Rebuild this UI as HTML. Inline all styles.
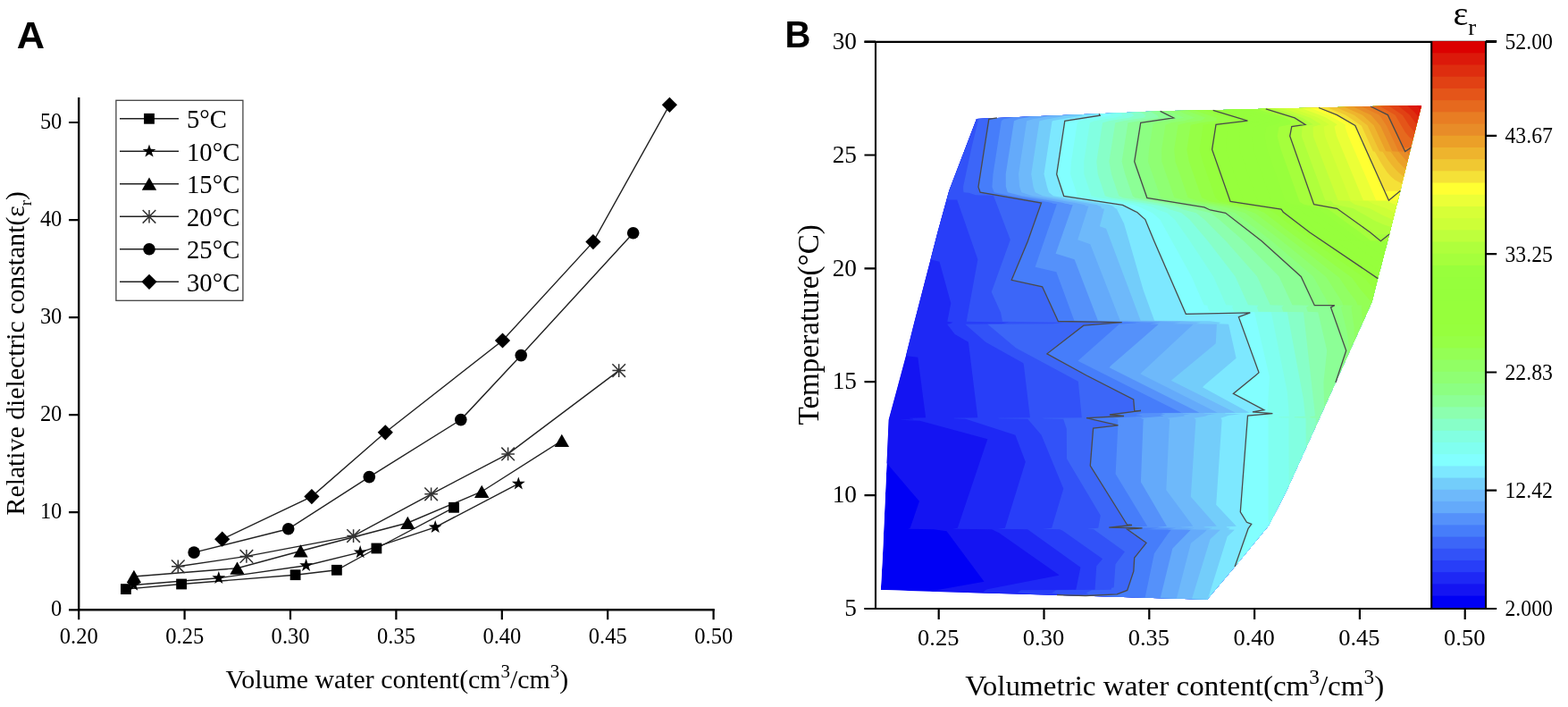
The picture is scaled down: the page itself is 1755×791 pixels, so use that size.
<!DOCTYPE html>
<html><head><meta charset="utf-8"><title>Dielectric constant figure</title>
<style>html,body{margin:0;padding:0;background:#fff;overflow:hidden;width:1755px;height:791px;}svg{display:block;}</style></head>
<body><svg width="1755" height="791" viewBox="0 0 1755 791">
<rect width="1755" height="791" fill="#fff"/>
<path d="M88.2 108.9V682.3M87.0 682.3H799.8" stroke="#000" stroke-width="2.4" fill="none"/>
<path d="M77.0 682.3H88.2M77.0 573.2H88.2M77.0 464.2H88.2M77.0 355.1H88.2M77.0 246.1H88.2M77.0 137.0H88.2M88.2 682.3V693.3M206.6 682.3V693.3M325.0 682.3V693.3M443.4 682.3V693.3M561.8 682.3V693.3M680.2 682.3V693.3M798.6 682.3V693.3" stroke="#000" stroke-width="2.2" fill="none"/>
<text transform="translate(69.33,689.15) scale(1,1.032)" font-family='"Liberation Serif", "DejaVu Serif", serif' font-size="24.46" text-anchor="end">0</text>
<text transform="translate(69.33,580.09) scale(1,1.032)" font-family='"Liberation Serif", "DejaVu Serif", serif' font-size="24.46" text-anchor="end">10</text>
<text transform="translate(69.33,471.03) scale(1,1.032)" font-family='"Liberation Serif", "DejaVu Serif", serif' font-size="24.46" text-anchor="end">20</text>
<text transform="translate(69.33,361.97) scale(1,1.032)" font-family='"Liberation Serif", "DejaVu Serif", serif' font-size="24.46" text-anchor="end">30</text>
<text transform="translate(69.33,252.91) scale(1,1.032)" font-family='"Liberation Serif", "DejaVu Serif", serif' font-size="24.46" text-anchor="end">40</text>
<text transform="translate(69.33,143.85) scale(1,1.032)" font-family='"Liberation Serif", "DejaVu Serif", serif' font-size="24.46" text-anchor="end">50</text>
<text transform="translate(88.31,720.24) scale(1,1.005)" font-family='"Liberation Serif", "DejaVu Serif", serif' font-size="24.57" text-anchor="middle">0.20</text>
<text transform="translate(206.71,720.24) scale(1,1.005)" font-family='"Liberation Serif", "DejaVu Serif", serif' font-size="24.57" text-anchor="middle">0.25</text>
<text transform="translate(325.11,720.24) scale(1,1.005)" font-family='"Liberation Serif", "DejaVu Serif", serif' font-size="24.57" text-anchor="middle">0.30</text>
<text transform="translate(443.51,720.24) scale(1,1.005)" font-family='"Liberation Serif", "DejaVu Serif", serif' font-size="24.57" text-anchor="middle">0.35</text>
<text transform="translate(561.91,720.24) scale(1,1.005)" font-family='"Liberation Serif", "DejaVu Serif", serif' font-size="24.57" text-anchor="middle">0.40</text>
<text transform="translate(680.31,720.24) scale(1,1.005)" font-family='"Liberation Serif", "DejaVu Serif", serif' font-size="24.57" text-anchor="middle">0.45</text>
<text transform="translate(798.71,720.24) scale(1,1.005)" font-family='"Liberation Serif", "DejaVu Serif", serif' font-size="24.57" text-anchor="middle">0.50</text>
<polyline points="140.9,659.1 203.1,653.5 330.6,643.2 376.9,637.8 421.4,613.5 508,567.8" fill="none" stroke="#222" stroke-width="1.4"/>
<polyline points="149.7,654.5 244.8,646.7 342.6,632.7 403.2,617.9 487.2,589.8 580.3,541.2" fill="none" stroke="#222" stroke-width="1.4"/>
<polyline points="149.9,645 265.5,635.7 336.5,616.5 456.3,585 539.2,550 628.8,493" fill="none" stroke="#222" stroke-width="1.4"/>
<polyline points="199.3,633.8 275.9,622.4 395.6,599.6 482.6,552.8 568.6,507.9 692.7,414.6" fill="none" stroke="#222" stroke-width="1.4"/>
<polyline points="217.1,618.1 322.7,591.8 413.3,533.6 515.8,469.6 583.2,397.6 708.7,260.7" fill="none" stroke="#222" stroke-width="1.4"/>
<polyline points="248.7,603.2 348.9,555.6 431.3,483.8 562.5,381 663.9,270.6 749.4,117.3" fill="none" stroke="#222" stroke-width="1.4"/>
<g fill="#000">
<rect x="135.0" y="653.2" width="11.8" height="11.8"/>
<rect x="197.2" y="647.6" width="11.8" height="11.8"/>
<rect x="324.7" y="637.3" width="11.8" height="11.8"/>
<rect x="371.0" y="631.9" width="11.8" height="11.8"/>
<rect x="415.5" y="607.6" width="11.8" height="11.8"/>
<rect x="502.1" y="561.9" width="11.8" height="11.8"/>
<polygon points="149.7,646.7 147.9,652.0 142.3,652.1 146.8,655.5 145.1,660.8 149.7,657.6 154.3,660.8 152.6,655.5 157.1,652.1 151.5,652.0"/>
<polygon points="244.8,638.9 243.0,644.2 237.4,644.3 241.9,647.7 240.2,653.0 244.8,649.8 249.4,653.0 247.7,647.7 252.2,644.3 246.6,644.2"/>
<polygon points="342.6,624.9 340.8,630.2 335.2,630.3 339.7,633.7 338.0,639.0 342.6,635.8 347.2,639.0 345.5,633.7 350.0,630.3 344.4,630.2"/>
<polygon points="403.2,610.1 401.4,615.4 395.8,615.5 400.3,618.9 398.6,624.2 403.2,621.0 407.8,624.2 406.1,618.9 410.6,615.5 405.0,615.4"/>
<polygon points="487.2,582.0 485.4,587.3 479.8,587.4 484.3,590.8 482.6,596.1 487.2,592.9 491.8,596.1 490.1,590.8 494.6,587.4 489.0,587.3"/>
<polygon points="580.3,533.4 578.5,538.7 572.9,538.8 577.4,542.2 575.7,547.5 580.3,544.3 584.9,547.5 583.2,542.2 587.7,538.8 582.1,538.7"/>
<polygon points="149.9,637.8 158.1,652.0 141.7,652.0"/>
<polygon points="265.5,628.5 273.7,642.7 257.3,642.7"/>
<polygon points="336.5,609.3 344.7,623.5 328.3,623.5"/>
<polygon points="456.3,577.8 464.5,592.0 448.1,592.0"/>
<polygon points="539.2,542.8 547.4,557.0 531.0,557.0"/>
<polygon points="628.8,485.8 637.0,500.0 620.6,500.0"/>
<path d="M192.0 626.5L206.6 641.1M206.6 626.5L192.0 641.1M199.3 626.5V641.1M192.0 633.8H206.6" stroke="#333" stroke-width="1.5" fill="none"/>
<path d="M268.6 615.1L283.2 629.7M283.2 615.1L268.6 629.7M275.9 615.1V629.7M268.6 622.4H283.2" stroke="#333" stroke-width="1.5" fill="none"/>
<path d="M388.3 592.3L402.9 606.9M402.9 592.3L388.3 606.9M395.6 592.3V606.9M388.3 599.6H402.9" stroke="#333" stroke-width="1.5" fill="none"/>
<path d="M475.3 545.5L489.9 560.1M489.9 545.5L475.3 560.1M482.6 545.5V560.1M475.3 552.8H489.9" stroke="#333" stroke-width="1.5" fill="none"/>
<path d="M561.3 500.6L575.9 515.2M575.9 500.6L561.3 515.2M568.6 500.6V515.2M561.3 507.9H575.9" stroke="#333" stroke-width="1.5" fill="none"/>
<path d="M685.4 407.3L700.0 421.9M700.0 407.3L685.4 421.9M692.7 407.3V421.9M685.4 414.6H700.0" stroke="#333" stroke-width="1.5" fill="none"/>
<circle cx="217.1" cy="618.1" r="6.8"/>
<circle cx="322.7" cy="591.8" r="6.8"/>
<circle cx="413.3" cy="533.6" r="6.8"/>
<circle cx="515.8" cy="469.6" r="6.8"/>
<circle cx="583.2" cy="397.6" r="6.8"/>
<circle cx="708.7" cy="260.7" r="6.8"/>
<polygon points="248.7,594.6 257.3,603.2 248.7,611.8 240.1,603.2"/>
<polygon points="348.9,547.0 357.5,555.6 348.9,564.2 340.3,555.6"/>
<polygon points="431.3,475.2 439.9,483.8 431.3,492.4 422.7,483.8"/>
<polygon points="562.5,372.4 571.1,381.0 562.5,389.6 553.9,381.0"/>
<polygon points="663.9,262.0 672.5,270.6 663.9,279.2 655.3,270.6"/>
<polygon points="749.4,108.7 758.0,117.3 749.4,125.9 740.8,117.3"/>
</g>
<rect x="129.9" y="112.3" width="142" height="224" fill="#fff" stroke="#444" stroke-width="1.3"/>
<path d="M134 132.8H200" stroke="#222" stroke-width="1.4"/>
<g fill="#000"><rect x="161.1" y="126.9" width="11.8" height="11.8"/></g>
<text transform="translate(209.00,143.34) scale(1,1.052)" font-family='"Liberation Serif", "DejaVu Serif", serif' font-size="28.76">5°C</text>
<path d="M134 169.3H200" stroke="#222" stroke-width="1.4"/>
<g fill="#000"><polygon points="167.0,161.5 165.2,166.8 159.6,166.9 164.1,170.3 162.4,175.6 167.0,172.4 171.6,175.6 169.9,170.3 174.4,166.9 168.8,166.8"/></g>
<text transform="translate(209.00,179.84) scale(1,1.052)" font-family='"Liberation Serif", "DejaVu Serif", serif' font-size="28.76">10°C</text>
<path d="M134 205.8H200" stroke="#222" stroke-width="1.4"/>
<g fill="#000"><polygon points="167.0,198.6 175.2,212.8 158.8,212.8"/></g>
<text transform="translate(209.00,216.34) scale(1,1.052)" font-family='"Liberation Serif", "DejaVu Serif", serif' font-size="28.76">15°C</text>
<path d="M134 242.3H200" stroke="#222" stroke-width="1.4"/>
<g fill="#000"><path d="M159.7 235.0L174.3 249.6M174.3 235.0L159.7 249.6M167.0 235.0V249.6M159.7 242.3H174.3" stroke="#333" stroke-width="1.5" fill="none"/></g>
<text transform="translate(209.00,252.84) scale(1,1.052)" font-family='"Liberation Serif", "DejaVu Serif", serif' font-size="28.76">20°C</text>
<path d="M134 278.8H200" stroke="#222" stroke-width="1.4"/>
<g fill="#000"><circle cx="167.0" cy="278.8" r="6.8"/></g>
<text transform="translate(209.00,289.34) scale(1,1.052)" font-family='"Liberation Serif", "DejaVu Serif", serif' font-size="28.76">25°C</text>
<path d="M134 315.3H200" stroke="#222" stroke-width="1.4"/>
<g fill="#000"><polygon points="167.0,306.7 175.6,315.3 167.0,323.9 158.4,315.3"/></g>
<text transform="translate(209.00,325.84) scale(1,1.052)" font-family='"Liberation Serif", "DejaVu Serif", serif' font-size="28.76">30°C</text>
<text transform="translate(444.41,770.09) scale(1,0.961)" font-family='"Liberation Serif", "DejaVu Serif", serif' font-size="29.88" text-anchor="middle">Volume water content(cm<tspan font-size="0.7em" dy="-0.61em">3</tspan><tspan dy="0.43em">/cm</tspan><tspan font-size="0.7em" dy="-0.61em">3</tspan><tspan dy="0.43em">)</tspan></text>
<text transform="translate(26.78,395.27) rotate(-90) scale(1,1.023)" font-family='"Liberation Serif", "DejaVu Serif", serif' font-size="29.76" text-anchor="middle">Relative dielectric constant(ε<tspan font-size="0.62em" dy="0.42em">r</tspan><tspan dy="-0.26em">)</tspan></text>
<text transform="translate(18.70,54.30) scale(1,0.969)" font-family='"Liberation Sans", Arial, sans-serif' font-size="43.32" font-weight="bold">A</text>
<text transform="translate(878.62,53.20) scale(1,1.070)" font-family='"Liberation Sans", Arial, sans-serif' font-size="40.01" font-weight="bold">B</text>
<clipPath id="cp"><path d="M1093 132.9L1115.9 131.9L1230.2 127.2L1298.6 124.3L1357.7 123.3L1416.8 121.8L1476 120.5L1534 119L1591 117.9L1579.1 165.2L1567.3 213.6L1555.1 262.1L1542.2 311.6L1535.7 337.4L1494.9 428L1477.1 467.3L1461.8 501L1442.7 543L1440 549L1421.6 585L1420.2 587.8L1382.1 634L1351.1 670.7L1334 670.2L1316.9 669.7L1298.7 669.2L1281.6 668.7L1250 667.8L1215 666.8L1180 665.8L1100 663.4L1040 661.7L985.8 660.1L988 620L989.3 590L992.5 518.4L994.7 469.4L1005.4 430L1014 398L1023 362L1028.7 340L1041.6 290.2L1049.4 260L1062.3 213.2Z"/></clipPath>
<g clip-path="url(#cp)">
<path d="M1093 132.9L1115.9 131.9L1230.2 127.2L1298.6 124.3L1357.7 123.3L1416.8 121.8L1476 120.5L1534 119L1591 117.9L1579.1 165.2L1567.3 213.6L1555.1 262.1L1542.2 311.6L1535.7 337.4L1494.9 428L1477.1 467.3L1461.8 501L1442.7 543L1440 549L1421.6 585L1420.2 587.8L1382.1 634L1351.1 670.7L1334 670.2L1316.9 669.7L1298.7 669.2L1281.6 668.7L1250 667.8L1215 666.8L1180 665.8L1100 663.4L1040 661.7L985.8 660.1L988 620L989.3 590L992.5 518.4L994.7 469.4L1005.4 430L1014 398L1023 362L1028.7 340L1041.6 290.2L1049.4 260L1062.3 213.2Z" fill="rgb(0,0,245)"/>
<path fill-rule="evenodd" fill="rgb(20,20,242)" d="M1604.8 682.8 975.2 682.8 975.2 661.7 1041.2 661.4 1101.5 650.8 1059.5 594.2 1045.3 592.2 1016.2 591.8 1018.7 590.8 1029 560.8 992.8 518.6 992.2 518.3 975.2 518.3 975.2 108.2 1604.8 108.2 1604.8 682.8Z"/>
<path fill-rule="evenodd" fill="rgb(30,40,245)" d="M1604.8 682.8 975.2 682.8 975.2 663.4 1100 663.2 1103.2 659.9 1105.1 659.2 1184.9 643.8 1185.3 643.2 1118.3 596.2 1110.1 592.2 1066.4 591.8 1071.8 590.8 1105.3 491.2 1029.5 470.8 1006.7 469.8 1022.5 469.2 1022 468.8 1018 468.2 1017.8 467.8 1036.1 467.2 1027.3 399.8 1016.8 398.6 1013.8 397.6 975.2 397.6 975.2 108.2 1604.8 108.2 1604.8 682.8Z"/>
<path fill-rule="evenodd" fill="rgb(40,62,248)" d="M1604.8 682.8 975.2 682.8 975.2 665.3 1161.8 665.3 1162.4 665.2 1155.8 665.1 1138.6 663.2 1142.7 660.2 1204.3 659.8 1209.4 634.8 1150.1 592.2 1116.5 591.8 1124.9 590.8 1147.8 516.7 1136.4 486.8 1080.8 468.8 1068.1 468.2 1067.4 467.8 1094.3 467.2 1083.9 382.8 1068.8 374.1 1060.1 362.8 1063.2 362.2 1066.5 360.8 1060.3 359.8 1064.3 339.2 1051.5 292.8 1041.2 290.2 975.2 290.2 975.2 108.2 1604.8 108.2 1604.8 682.8Z"/>
<path fill-rule="evenodd" fill="rgb(50,82,248)" d="M1604.8 682.8 975.2 682.8 975.2 666.1 1188.2 665.9 1192.7 665.8 1177.1 663.2 1182.4 660.2 1225.5 659.8 1227.3 633.2 1234.1 625.2 1189.4 593.8 1186.1 592.2 1166.7 591.8 1177.1 590.8 1190.3 546.8 1165.6 486.8 1150.2 468.8 1118.2 468.2 1117 467.8 1152.9 467.2 1145.8 407.7 1145.3 406.2 1103.2 382.8 1080.3 362.8 1120.8 362.2 1129 360.8 1081.7 359.8 1094.4 290.2 1071.2 223.5 975.2 223.6 975.2 108.2 1604.8 108.2 1604.8 682.8Z"/>
<path fill-rule="evenodd" fill="rgb(60,102,248)" d="M1604.8 682.8 975.2 682.8 975.2 666.5 1200.8 666.4 1211.6 665.8 1218.3 664.8 1215.7 663.2 1222.1 660.2 1243.7 659.8 1244.1 657.8 1246.7 657.2 1248.5 631.2 1258.9 617.2 1224.1 592.2 1216.9 591.8 1229.2 590.8 1231.8 576.8 1194 513.2 1193.8 479.8 1190.1 468.8 1168.3 468.2 1166.6 467.8 1210.8 467.2 1206.8 426.8 1137 389.2 1105.4 362.8 1178.4 362.2 1191.4 360.8 1122 359.8 1120.1 349.8 1109.7 326.8 1130.8 268.2 1111.9 218.8 1092.2 218.2 1084.5 215.8 1078.6 215.2 1078.2 213.2 1078.1 208.8 1088 162.8 1095.1 133.8 1095.8 132.9 1096.7 132.8 975.2 132.7 975.2 108.2 1604.8 108.2 1604.8 682.8Z"/>
<path fill-rule="evenodd" fill="rgb(70,125,250)" d="M1604.8 682.8 975.2 682.8 975.2 667.8 1248.6 667.8 1238.2 667.6 1231.6 666.8 1220.2 666.2 1250.3 664.8 1261.8 660.2 1268.8 639.2 1269.7 624.2 1282.9 607.2 1261.8 592.2 1275.8 590.8 1250.8 590.3 1244.8 589.8 1264.5 587.8 1264.2 587.2 1261.3 586.8 1261 586.2 1220.3 520.8 1223.6 479.2 1250.8 475.8 1216.2 467.8 1253.2 465.8 1255.3 465.2 1244.6 464.2 1243.9 463.8 1271.1 460.2 1271.2 459.8 1274.8 459.8 1270.2 459.8 1269.8 459.2 1268.7 447.2 1215.5 419.8 1172 395.8 1212.7 364.2 1253.8 360.8 1184.3 359.2 1166.3 320.8 1132.2 313.2 1150.2 270.1 1165.3 227.2 1097.4 215.2 1096.9 214.8 1095 208.8 1106.7 133.8 1107.2 133.2 1113.6 132.2 975.2 131.9 975.2 108.2 1604.8 108.2 1604.8 682.8Z"/>
<path fill-rule="evenodd" fill="rgb(85,145,250)" d="M1604.8 682.8 975.2 682.8 975.2 668.7 1265.8 668.7 1281.7 668.2 1291.9 619.2 1307.5 596.8 1310.8 592.8 1284.3 592.2 1296.1 590.8 1274 590.2 1270.3 589.8 1284.2 588.8 1248.6 530.2 1251.2 478.8 1251.2 469.8 1251.6 469.2 1246.2 467.8 1277.1 465.8 1278.9 465.2 1271.6 464.2 1271.9 463.8 1276.1 463.2 1275.5 462.8 1278.8 462.2 1322.3 461.8 1206.4 403.8 1252.7 362.8 1276.4 360.8 1202.4 358.8 1182.3 304.2 1158.6 298.8 1182.9 228.2 1178.7 227.8 1176.6 226.8 1132.3 219.2 1112.7 215.2 1110.4 209.2 1111.5 194.8 1120.8 135.2 1123.4 133.2 1134.5 131.2 975.2 131.1 975.2 108.2 1604.8 108.2 1604.8 682.8Z"/>
<path fill-rule="evenodd" fill="rgb(100,170,250)" d="M1604.8 682.8 975.2 682.8 975.2 669.2 1283.2 669.2 1298.8 668.8 1312.3 613.8 1332.8 592.8 1306.8 592.2 1316.4 590.8 1298.8 590.2 1295.9 589.8 1305.9 588.8 1276.9 539.2 1279.6 469.8 1280.5 469.2 1276.2 467.8 1301 465.8 1302.4 465.2 1298.4 464.2 1304.3 463.2 1299.3 462.8 1302.1 462.2 1342.5 461.8 1241.6 411.2 1243.2 409.2 1296.7 362.8 1287.1 362.2 1298.8 360.8 1228.9 358.8 1202.6 290.2 1181.6 283.8 1200.7 229.2 1196.6 228.8 1196.1 228.2 1192.1 227.8 1189.1 226.8 1143.9 219.2 1128 215.2 1127.7 214.8 1125.8 208.8 1125.7 194.8 1134.9 135.8 1135 135.2 1139.8 133.2 1152.9 130.8 1143.8 130.3 975.2 130.3 975.2 108.2 1604.8 108.2 1604.8 682.8Z"/>
<path fill-rule="evenodd" fill="rgb(110,185,250)" d="M1604.8 682.8 975.2 682.8 975.2 669.7 1300.8 669.7 1317 669.2 1332.9 607.8 1348.5 595.2 1350.8 592.8 1329.3 592.2 1336.7 590.8 1323.6 590.2 1321.5 589.8 1335.3 588.8 1305.3 548.2 1309 469.8 1309.4 469.2 1306.3 467.8 1324.8 465.8 1325.9 465.2 1325.2 464.8 1325.3 464.2 1332.5 463.2 1323.1 462.8 1325.3 462.2 1362.7 461.8 1276.2 418.2 1335.7 362.8 1312.6 362.2 1321.3 360.8 1317.2 360.5 1286.2 359.2 1253.7 358.8 1220.3 273.2 1206.2 268.2 1218.3 230.8 1214.8 230.2 1214.4 229.2 1201.6 226.8 1155.6 219.2 1143.4 215.2 1143.1 214.8 1141.1 208.8 1140 194.8 1149.1 135.8 1149.3 135.2 1156.1 133.2 1165.6 131.8 1172.8 129.8 975.2 129.6 975.2 108.2 1604.8 108.2 1604.8 682.8Z"/>
<path fill-rule="evenodd" fill="rgb(115,205,250)" d="M1604.8 682.8 975.2 682.8 975.2 670.2 1318.8 670.2 1334.1 669.8 1354.5 603.2 1365.8 592.8 1351.8 592.2 1357 590.8 1348.3 590.2 1347.1 589.8 1349 589.2 1361.8 588.8 1332.8 555.8 1338.3 471.8 1338.4 469.2 1336.3 467.8 1348.7 465.8 1352.2 464.2 1360.7 463.2 1346.9 462.8 1348.6 462.2 1382.8 461.8 1310.8 425.8 1360.3 384.8 1360.8 383.4 1361.9 362.8 1338.1 362.2 1343.7 360.8 1320.2 359.2 1276.7 358.8 1238 255.8 1230.9 253.2 1236 233.8 1233.1 233.2 1232 230.8 1229.3 230.2 1228.1 229.2 1167.3 219.2 1158.7 215.2 1156.6 209.2 1154.2 194.8 1163.3 135.8 1163.6 135.2 1169.8 133.8 1187.1 130.8 1192.2 129.2 1182.8 128.8 975.2 128.8 975.2 108.2 1604.8 108.2 1604.8 682.8Z"/>
<path fill-rule="evenodd" fill="rgb(125,232,255)" d="M1351.8 682.8 1350.6 682.8 1350.6 670.2 1351 669.2 1352.2 668.8 1352.8 669.2 1352.3 668.8 1373.7 600.2 1381.8 592.8 1374.3 592.2 1377.2 590.8 1373.1 590.2 1372.7 589.8 1373.8 589.2 1383.8 588.8 1361.2 564.8 1367.6 469.8 1366.3 467.8 1375.2 464.8 1388.9 463.2 1370.7 462.8 1371.8 462.2 1398.5 461.8 1346 433.2 1347.8 431.2 1383.6 400.8 1375.1 362.8 1363.7 362.2 1366.2 360.8 1354.1 359.2 1292.1 358.8 1279.8 325 1258.1 250.2 1250.1 234.2 1250.6 233.8 1248.6 233.2 1245.6 230.8 1241.8 229.2 1179 219.2 1174 215.2 1171.9 208.8 1168.5 194.8 1177.5 135.8 1178.8 135.1 1209.4 129.8 1211.6 129.2 1211.3 128.2 975.2 128 975.2 108.2 1604.8 108.2 1604.8 669.2 1352.8 669.2 1352.2 670.2 1352.2 682.8 1351.8 682.8Z"/>
<path fill-rule="evenodd" fill="rgb(130,255,255)" d="M1604.8 634 1382.2 633.9 1396.9 591.8 1400.5 586.8 1400.3 586.2 1395.4 584.2 1388.3 572.8 1396.5 465.2 1416.8 463.2 1394.4 462.8 1395 462.2 1413.8 461.8 1402.2 460.8 1414.3 458.8 1380.6 440.2 1408.8 416.8 1386.3 354.8 1396.8 350.2 1397.8 350.2 1326.8 349.9 1281.4 245.2 1272.2 237.2 1255.5 229.2 1190.7 219.2 1182.7 194.8 1191.7 135.8 1192.1 135.2 1230.8 129.2 1230.2 127.2 975.2 127.2 975.2 108.2 1604.8 108.2 1604.8 634Z"/>
<path fill-rule="evenodd" fill="rgb(128,255,240)" d="M1604.8 586.3 1421.1 586.2 1420.8 585.2 1421.3 584.8 1419.8 583.2 1419.5 582.2 1419.5 467.8 1413.9 467.2 1413.9 466.2 1418 465.8 1418.2 463.1 1432.7 462.8 1430.2 462.2 1418.4 461.8 1420.9 421.8 1404.2 349.9 1403.9 349.2 1353.7 348.8 1351.6 343.8 1351.6 341.8 1347.6 341.2 1333.5 309.2 1298.4 245.8 1289.9 238.2 1275.6 231.8 1268.3 229.2 1206.1 219.2 1198 194.8 1199 180.8 1205.8 137.2 1208.6 135.2 1243.8 129.2 1242.6 127.2 1240.8 126.7 975.2 126.7 975.2 108.2 1604.8 108.2 1604.8 586.3Z"/>
<path fill-rule="evenodd" fill="rgb(130,255,225)" d="M1604.8 545 1441.9 544.8 1442.6 540.2 1442.4 467.8 1431.4 467.2 1431.4 466.2 1442.9 465.8 1440.8 438.8 1422.8 349.2 1381.2 348.8 1379.2 343.8 1380 341.8 1372.3 341.2 1358 309.2 1331.9 269.8 1315 245.8 1306.2 238.2 1296.1 234.8 1290 231.8 1281.2 229.2 1230.2 221.2 1221.5 219.2 1213.3 194.8 1213.2 180.8 1219.8 137.8 1220 137.2 1225 135.2 1247.6 131.8 1256.7 129.2 1255 127.2 1252.2 126.2 975.2 126.2 975.2 108.2 1604.8 108.2 1604.8 545Z"/>
<path fill-rule="evenodd" fill="rgb(135,255,200)" d="M1604.8 502.8 1461.2 502.8 1461 501.2 1461.8 500.8 1461.5 467.8 1448.9 467.2 1448.8 466.2 1460.9 465.8 1458.8 446 1440.8 349.2 1408.7 348.8 1406.8 343.8 1408.4 341.8 1397 341.2 1382.5 309.2 1351.6 269.2 1331.6 245.8 1322.5 238.2 1310.6 234.8 1304.4 231.8 1296.3 229.8 1243.6 221.2 1236.9 219.2 1228.8 195.2 1227.3 180.8 1234 137.8 1234.3 137.2 1241.4 135.2 1264 131.8 1269.6 129.2 1267.3 127.2 1264.2 125.8 975.2 125.8 975.2 108.2 1604.8 108.2 1604.8 502.8Z"/>
<path fill-rule="evenodd" fill="rgb(140,255,175)" d="M1604.8 480.4 1471.2 480.4 1471.2 476.2 1472.8 475.8 1472.6 467.8 1466.4 467.2 1466.3 466.2 1471.1 465.8 1472 464.8 1458.9 349.2 1436.2 348.8 1434.4 343.8 1436.8 341.8 1421.7 341.2 1407 309.2 1372.1 269.8 1348.2 245.8 1338.8 238.2 1325.2 234.8 1318.9 231.8 1306.8 229.2 1257 221.2 1252.3 219.2 1244.1 195.2 1241.4 180.8 1248.2 137.8 1248.5 137.2 1257.8 135.2 1280.4 131.8 1282.5 129.2 1279.7 127.2 1276.2 125.5 1271.2 125.3 975.2 125.3 975.2 108.2 1604.8 108.2 1604.8 480.4Z"/>
<path fill-rule="evenodd" fill="rgb(140,255,150)" d="M1604.8 456.2 1482.2 456.2 1481.4 427.8 1485.2 392.2 1475.2 349.2 1463.7 348.8 1462 343.8 1465.3 341.8 1446.4 341.2 1431.5 309.2 1392.2 269.8 1364.7 245.8 1355.1 238.2 1340.8 235.1 1333.3 231.8 1270.4 221.2 1267.7 219.2 1259.4 195.2 1255.6 180.8 1262.4 137.8 1262.8 137.2 1270.2 135.9 1296.9 131.8 1295.5 129.2 1292.1 127.2 1287.8 125.1 1281.8 124.8 975.2 124.8 975.2 108.2 1604.8 108.2 1604.8 456.2Z"/>
<path fill-rule="evenodd" fill="rgb(140,255,130)" d="M1604.8 428 1495.2 428 1495 427.2 1506.5 392.2 1489.6 344.2 1489.5 343.8 1493.6 341.8 1471 341.2 1456 309.2 1412.3 269.8 1372.2 238.7 1354.8 235 1347.7 231.8 1283.8 221.2 1269.7 180.8 1276.6 137.8 1277.1 137.2 1313.3 131.8 1299.5 124.8 1293.8 124.4 975.2 124.4 975.2 108.2 1604.8 108.2 1604.8 428Z"/>
<path fill-rule="evenodd" fill="rgb(143,255,115)" d="M1604.8 405.8 1505.2 405.8 1509.4 392.2 1509.5 387.8 1508.9 379.8 1507.3 369.8 1501 344.2 1501 343.8 1504 341.8 1487.2 341.2 1485.5 337.2 1469.8 309.2 1423.6 269.8 1382.5 238.2 1369 235.2 1359.6 231.8 1319.5 225.2 1299.1 221.2 1285 180.8 1286 167.2 1290.4 139.8 1294 137.2 1309.8 135 1325.3 131.8 1308.8 124.2 975.2 124.1 975.2 108.2 1604.8 108.2 1604.8 405.8Z"/>
<path fill-rule="evenodd" fill="rgb(145,255,100)" d="M1604.8 383.6 1515.2 383.6 1515.8 374.2 1515.6 366.2 1512.4 343.8 1514.3 341.8 1503.3 341.2 1501.7 337.2 1485.6 311.8 1483.6 309.2 1434.9 269.8 1393.5 238.2 1371.5 231.8 1331 225.2 1314.4 221.2 1300.3 180.8 1300.1 167.2 1304.5 139.8 1310.9 137.2 1325.5 135.2 1337.3 131.8 1319.2 124.2 1315.2 124.1 975.2 124 975.2 108.2 1604.8 108.2 1604.8 383.6Z"/>
<path fill-rule="evenodd" fill="rgb(148,255,85)" d="M1604.8 361.4 1525.2 361.4 1523.8 343.8 1524.6 341.8 1519.4 341.2 1518 337.2 1509.2 325.8 1499.8 311.8 1497.9 309.8 1446.3 269.8 1405.2 238.8 1392.2 233.8 1383.4 231.8 1342.5 225.2 1329.7 221.2 1315.5 180.8 1314.2 167.2 1318.6 139.8 1327.9 137.2 1342.9 135.2 1344.8 134.7 1349.4 131.8 1329.6 124.2 1324.2 123.9 975.2 123.8 975.2 108.2 1604.8 108.2 1604.8 361.4Z"/>
<path fill-rule="evenodd" fill="rgb(150,255,70)" d="M1604.8 339.2 1535.2 339.2 1534.3 337.2 1522.7 323.8 1514 311.8 1511.8 309.8 1443.5 259.8 1415.5 238.2 1405.6 233.8 1354 225.2 1345 221.2 1330.8 180.8 1328.4 167.8 1332.7 139.8 1344.8 137.2 1360.3 135.2 1361.5 134.8 1361.8 132.2 1361.4 131.8 1337.8 123.7 975.2 123.6 975.2 108.2 1604.8 108.2 1604.8 339.2Z"/>
<path fill-rule="evenodd" fill="rgb(150,255,62)" d="M1604.8 325 1538.8 325 1527.6 311.2 1455.2 260.2 1427.2 238.8 1420.6 234.2 1365.5 225.2 1360.3 221.2 1346.1 180.8 1342.5 167.2 1346.8 139.8 1377.8 135.2 1378.4 134.8 1373.4 131.8 1348.8 123.8 1343.8 123.6 975.2 123.5 975.2 108.2 1604.8 108.2 1604.8 325Z"/>
<path fill-rule="evenodd" fill="rgb(150,255,60)" d="M1604.8 311.6 1542.2 311.6 1466.3 260.2 1436.3 237.2 1434.2 234.2 1377.1 225.2 1356.6 167.2 1361 139.8 1395.1 135.2 1395.3 134.8 1359.2 123.8 1355.2 123.4 975.2 123.3 975.2 108.2 1604.8 108.2 1604.8 311.6Z"/>
<path fill-rule="evenodd" fill="rgb(150,255,60)" d="M1604.8 303.4 1544.2 303.3 1494.7 269.8 1490.5 269.2 1476.9 259.8 1447.2 237.2 1444.8 234.2 1392.4 225.2 1372 167.2 1373.1 152.2 1374.8 141.8 1377.2 139.8 1378.6 139.2 1405 135.2 1405 134.8 1395.9 131.8 1368.2 123.2 1363.2 123.1 975.2 123 975.2 108.2 1604.8 108.2 1604.8 303.4Z"/>
<path fill-rule="evenodd" fill="rgb(150,255,60)" d="M1604.8 295.1 1546.2 294.9 1509 269.8 1501.3 269.2 1458.1 237.2 1455.4 234.2 1423.3 228.8 1407.8 225.2 1387.4 167.2 1387.2 152.2 1389 141.8 1389.7 141.2 1395 139.2 1414.9 135.2 1414.7 134.8 1406.5 131.8 1378.8 123.2 1359.8 122.8 975.2 122.8 975.2 108.2 1604.8 108.2 1604.8 295.1Z"/>
<path fill-rule="evenodd" fill="rgb(150,255,60)" d="M1604.8 286.9 1548.8 286.9 1523.4 269.8 1512.2 269.2 1469.1 237.2 1465.9 234.2 1462.6 233.2 1435.3 228.8 1423.2 225.2 1402.8 167.2 1401.3 152.2 1403.2 141.8 1424.8 135.2 1417 131.8 1387.9 122.8 975.2 122.5 975.2 108.2 1604.8 108.2 1604.8 286.9Z"/>
<path fill-rule="evenodd" fill="rgb(152,255,60)" d="M1604.8 278.6 1550.8 278.6 1537.7 269.8 1523.1 269.2 1476.5 234.2 1473.8 233.2 1447.4 228.8 1438.6 225.2 1418.2 167.2 1415.5 152.2 1417.4 141.8 1427.9 139.2 1434.6 135.2 1427.6 131.8 1398.5 122.8 1379.2 122.3 975.2 122.3 975.2 108.2 1604.8 108.2 1604.8 278.6Z"/>
<path fill-rule="evenodd" fill="rgb(165,255,60)" d="M1604.8 270.4 1553.2 270.4 1551.2 269.7 1534 269.2 1522 259.8 1486.2 233.8 1459.4 228.8 1454.6 225.8 1433.6 167.2 1429.6 152.2 1431.6 141.8 1444.3 139.2 1444.5 135.2 1438.1 131.8 1407.6 122.2 975.2 122.1 975.2 108.2 1604.8 108.2 1604.8 270.4Z"/>
<path fill-rule="evenodd" fill="rgb(175,255,60)" d="M1604.8 262.1 1536.8 262.2 1496.8 233.5 1470.5 228.2 1443.7 152.2 1445.8 141.8 1460.6 139.2 1448.6 131.8 1418.2 122.2 1399.2 121.8 975.2 121.8 975.2 108.2 1604.8 108.2 1604.8 262.1Z"/>
<path fill-rule="evenodd" fill="rgb(190,255,60)" d="M1604.8 254 1556.8 253.9 1547.8 250.9 1538.2 246.8 1514.7 233.2 1493.7 228.8 1492.7 228.2 1489.9 224.8 1483.3 224.2 1456.8 152.2 1457.7 141.8 1469.7 139.2 1457.5 131.8 1427.1 121.8 975.2 121.6 975.2 108.2 1604.8 108.2 1604.8 254Z"/>
<path fill-rule="evenodd" fill="rgb(205,255,55)" d="M1604.8 245.9 1559.2 245.9 1547.4 240.8 1533.2 233.2 1516.1 228.8 1510.5 224.8 1497.5 224.2 1469.8 152.2 1469.6 141.8 1478.7 139.2 1466.3 131.8 1437.5 121.8 1418.8 121.4 975.2 121.4 975.2 108.2 1604.8 108.2 1604.8 245.9Z"/>
<path fill-rule="evenodd" fill="rgb(215,255,55)" d="M1604.8 237.9 1561.2 237.9 1551.8 233.2 1537.2 228.2 1531.1 224.8 1511.7 224.2 1482.9 152.2 1481.6 141.8 1487.7 139.2 1475.2 131.8 1446.7 121.2 975.2 121.2 975.2 108.2 1604.8 108.2 1604.8 237.9Z"/>
<path fill-rule="evenodd" fill="rgb(235,255,55)" d="M1604.8 229.8 1563.2 229.8 1551.7 224.8 1525.9 224.2 1496 152.2 1493.5 141.8 1496.7 139.2 1483.8 131.6 1477.2 128.7 1457.1 121.2 975.2 120.9 975.2 108.2 1604.8 108.2 1604.8 229.8Z"/>
<path fill-rule="evenodd" fill="rgb(255,255,50)" d="M1561.8 224.3 1540.2 224.2 1509 152.2 1505.4 141.8 1506.1 140.2 1505.7 139.2 1487.1 128.8 1466.2 120.8 975.2 120.7 975.2 108.2 1604.8 108.2 1604.8 221.7 1565.2 221.7 1561.8 224.3Z"/>
<path fill-rule="evenodd" fill="rgb(245,225,55)" d="M1604.8 213.6 1549.8 213.8 1516.9 140.8 1496.7 128.8 1476.6 120.8 975.2 120.5 975.2 108.2 1604.8 108.2 1604.8 213.6Z"/>
<path fill-rule="evenodd" fill="rgb(240,200,50)" d="M1604.8 205.5 1569.2 205.5 1561.2 201.3 1556.8 197.4 1552.2 192.2 1546 182.8 1538.8 169.8 1536.8 169.2 1523.9 140.8 1506.1 128.8 1485.8 120.3 975.2 120.2 975.2 108.2 1604.8 108.2 1604.8 205.5Z"/>
<path fill-rule="evenodd" fill="rgb(238,180,45)" d="M1604.8 197.5 1571.2 197.5 1569.4 196.2 1564 191.8 1558.8 186 1553.3 178.8 1547.6 169.8 1544 169.2 1530.5 140.2 1515.6 128.8 1495.8 120.2 975.2 120 975.2 108.2 1604.8 108.2 1604.8 197.5Z"/>
<path fill-rule="evenodd" fill="rgb(235,160,40)" d="M1604.8 189.4 1573 189.2 1564.8 180.9 1556.5 169.8 1551.1 169.2 1537.6 140.2 1525 128.8 1504.8 119.8 975.2 119.8 975.2 108.2 1604.8 108.2 1604.8 189.4Z"/>
<path fill-rule="evenodd" fill="rgb(232,140,40)" d="M1604.8 181.3 1575.2 181.3 1565.3 169.8 1558.3 169.2 1545 140.8 1534.5 128.8 1515.2 119.8 975.2 119.5 975.2 108.2 1604.8 108.2 1604.8 181.3Z"/>
<path fill-rule="evenodd" fill="rgb(232,125,35)" d="M1604.8 173.3 1577.2 173.3 1574.1 169.8 1565.4 169.2 1552 140.8 1543.9 128.8 1524.2 119.2 975.2 119.2 975.2 108.2 1604.8 108.2 1604.8 173.3Z"/>
<path fill-rule="evenodd" fill="rgb(230,105,30)" d="M1604.8 165.2 1570.8 165.2 1553.4 128.8 1534.5 119.2 975.2 119 975.2 108.2 1604.8 108.2 1604.8 165.2Z"/>
<path fill-rule="evenodd" fill="rgb(228,85,25)" d="M1604.8 156.6 1581.2 156.6 1576.8 152.8 1572.7 147.8 1561.6 128.8 1545 119.2 1543.2 119.1 975.2 118.8 975.2 108.2 1604.8 108.2 1604.8 156.6Z"/>
<path fill-rule="evenodd" fill="rgb(225,65,20)" d="M1604.8 148.1 1583.2 147.9 1577.1 140.2 1569.8 128.8 1554.8 118.8 975.2 118.6 975.2 108.2 1604.8 108.2 1604.8 148.1Z"/>
<path fill-rule="evenodd" fill="rgb(222,45,15)" d="M1604.8 139.5 1585.8 139.5 1577.5 128.2 1565.3 118.8 1564.2 118.7 975.2 118.4 975.2 108.2 1604.8 108.2 1604.8 139.5Z"/>
<path fill-rule="evenodd" fill="rgb(220,25,10)" d="M1604.8 130.9 1587.8 130.9 1583.2 125.4 1575.4 118.2 1575.4 108.2 1604.8 108.2 1604.8 130.9Z"/>
<path fill-rule="evenodd" fill="rgb(220,0,0)" d="M1604.8 122.4 1589.8 122.2 1585.9 118.2 1585.9 108.2 1604.8 108.2 1604.8 122.4Z"/>
</g>
<path d="M1115.9 131.9 1106.8 133.3 1095 209.1 1097.1 215.2 1165.5 227 1150.3 270 1132.2 313.3 1166.6 320.8 1184.4 359.5 1255.7 360.6 1212.8 364.2 1171.9 395.8 1216 420 1268.7 446.9 1269.8 459.8 1277 459.5 1242 464 1258 465.5 1216 467.7 1251.5 475.9 1223.6 479.1 1220.3 521 1261.5 587 1267 587.5 1241.3 590.1 1278.5 590.8 1261.7 592.2 1283 607.3 1269.7 624.1 1268.8 639.2 1261.7 660.4 1250.2 664.8 1215 666.5M1230.2 127.2 1231.2 129.2 1191.8 135.3 1182.7 195 1190.7 219.3 1256.5 229.4 1272.7 237.5 1281.8 245.6 1291.9 270 1327.3 351.3 1399.3 349.8 1386.4 354.6 1409 416.9 1405.4 420 1380.4 440.4 1414.8 458.7 1401.9 460.8 1424.4 462.6 1396.5 465.1 1388.3 572.8 1395.4 584.3 1400.7 586.4 1397.1 591.3 1382.1 634M1298.6 124.3 1313.6 131.9 1276.7 137.3 1269.7 180.8 1283.8 221.3 1348 231.8 1354.5 235 1371.7 238.3 1412.2 269.7 1456.2 309.4 1471.3 341.7 1493.8 341.7 1489.5 343.8 1506.7 392.2 1494.9 428M1357.7 123.3 1396.4 135.1 1361 139.4 1356.6 167.3 1377.1 225.4 1434 234 1436.2 237.2 1465.9 260 1542.2 311.6M1416.8 121.8 1449.1 131.9 1460.9 139.4 1445.8 141.5 1443.7 152.3 1470.6 228.6 1496.4 233.3 1533.6 260 1545.4 269.7 1555.1 262.1M1476 120.5 1496.4 128.6 1516.8 140.5 1554.4 224.3 1567.3 213.6M1534 119 1553.3 128.6 1572.7 169.5 1579.1 165.2M1215 666.5L1183 665.7" fill="none" stroke="#4a4a4a" stroke-width="1.3" stroke-linejoin="miter"/>
<path d="M980.0 45.9V682.0M967.5 46.9H1675M967.5 681.0H1602" stroke="#000" stroke-width="2.1" fill="none"/>
<path d="M967.5 681.0H980.0M967.5 554.1H980.0M967.5 427.2H980.0M967.5 300.4H980.0M967.5 173.5H980.0M967.5 46.6H980.0M1050.7 681.0V693.0M1168.5 681.0V693.0M1286.3 681.0V693.0M1404.1 681.0V693.0M1521.9 681.0V693.0M1639.7 681.0V693.0" stroke="#000" stroke-width="2.2" fill="none"/>
<text transform="translate(958.99,689.24) scale(1,1.038)" font-family='"Liberation Serif", "DejaVu Serif", serif' font-size="27.28" text-anchor="end">5</text>
<text transform="translate(958.99,562.37) scale(1,1.038)" font-family='"Liberation Serif", "DejaVu Serif", serif' font-size="27.28" text-anchor="end">10</text>
<text transform="translate(958.99,435.49) scale(1,1.038)" font-family='"Liberation Serif", "DejaVu Serif", serif' font-size="27.28" text-anchor="end">15</text>
<text transform="translate(958.99,308.62) scale(1,1.038)" font-family='"Liberation Serif", "DejaVu Serif", serif' font-size="27.28" text-anchor="end">20</text>
<text transform="translate(958.99,181.74) scale(1,1.038)" font-family='"Liberation Serif", "DejaVu Serif", serif' font-size="27.28" text-anchor="end">25</text>
<text transform="translate(958.99,54.86) scale(1,1.038)" font-family='"Liberation Serif", "DejaVu Serif", serif' font-size="27.28" text-anchor="end">30</text>
<text transform="translate(1050.20,722.10) scale(1,0.989)" font-family='"Liberation Serif", "DejaVu Serif", serif' font-size="26.49" text-anchor="middle">0.25</text>
<text transform="translate(1168.00,722.10) scale(1,0.989)" font-family='"Liberation Serif", "DejaVu Serif", serif' font-size="26.49" text-anchor="middle">0.30</text>
<text transform="translate(1285.80,722.10) scale(1,0.989)" font-family='"Liberation Serif", "DejaVu Serif", serif' font-size="26.49" text-anchor="middle">0.35</text>
<text transform="translate(1403.60,722.10) scale(1,0.989)" font-family='"Liberation Serif", "DejaVu Serif", serif' font-size="26.49" text-anchor="middle">0.40</text>
<text transform="translate(1521.40,722.10) scale(1,0.989)" font-family='"Liberation Serif", "DejaVu Serif", serif' font-size="26.49" text-anchor="middle">0.45</text>
<text transform="translate(1639.20,722.10) scale(1,0.989)" font-family='"Liberation Serif", "DejaVu Serif", serif' font-size="26.49" text-anchor="middle">0.50</text>
<text transform="translate(1314.64,777.96) scale(1,0.952)" font-family='"Liberation Serif", "DejaVu Serif", serif' font-size="33.09" text-anchor="middle">Volumetric water content(cm<tspan font-size="0.7em" dy="-0.61em">3</tspan><tspan dy="0.43em">/cm</tspan><tspan font-size="0.7em" dy="-0.61em">3</tspan><tspan dy="0.43em">)</tspan></text>
<text transform="translate(916.08,363.35) rotate(-90) scale(1,1.028)" font-family='"Liberation Serif", "DejaVu Serif", serif' font-size="33.15" text-anchor="middle">Temperature(°C)</text>
<rect x="1602.2" y="46.10" width="60.8" height="635.20" fill="rgb(220, 0, 0)"/>
<rect x="1602.2" y="59.30" width="60.8" height="622.00" fill="rgb(220, 25, 10)"/>
<rect x="1602.2" y="72.50" width="60.8" height="608.80" fill="rgb(222, 45, 15)"/>
<rect x="1602.2" y="85.71" width="60.8" height="595.59" fill="rgb(225, 65, 20)"/>
<rect x="1602.2" y="98.91" width="60.8" height="582.39" fill="rgb(228, 85, 25)"/>
<rect x="1602.2" y="112.11" width="60.8" height="569.19" fill="rgb(230, 105, 30)"/>
<rect x="1602.2" y="125.31" width="60.8" height="555.99" fill="rgb(232, 125, 35)"/>
<rect x="1602.2" y="138.51" width="60.8" height="542.79" fill="rgb(232, 140, 40)"/>
<rect x="1602.2" y="151.72" width="60.8" height="529.58" fill="rgb(235, 160, 40)"/>
<rect x="1602.2" y="164.92" width="60.8" height="516.38" fill="rgb(238, 180, 45)"/>
<rect x="1602.2" y="178.12" width="60.8" height="503.18" fill="rgb(240, 200, 50)"/>
<rect x="1602.2" y="191.32" width="60.8" height="489.98" fill="rgb(245, 225, 55)"/>
<rect x="1602.2" y="204.52" width="60.8" height="476.77" fill="rgb(255, 255, 50)"/>
<rect x="1602.2" y="217.73" width="60.8" height="463.57" fill="rgb(235, 255, 55)"/>
<rect x="1602.2" y="230.93" width="60.8" height="450.37" fill="rgb(215, 255, 55)"/>
<rect x="1602.2" y="244.13" width="60.8" height="437.17" fill="rgb(205, 255, 55)"/>
<rect x="1602.2" y="257.33" width="60.8" height="423.97" fill="rgb(190, 255, 60)"/>
<rect x="1602.2" y="270.54" width="60.8" height="410.76" fill="rgb(175, 255, 60)"/>
<rect x="1602.2" y="283.74" width="60.8" height="397.56" fill="rgb(165, 255, 60)"/>
<rect x="1602.2" y="296.94" width="60.8" height="384.36" fill="rgb(152, 255, 60)"/>
<rect x="1602.2" y="310.14" width="60.8" height="371.16" fill="rgb(150, 255, 60)"/>
<rect x="1602.2" y="323.34" width="60.8" height="357.96" fill="rgb(150, 255, 60)"/>
<rect x="1602.2" y="336.55" width="60.8" height="344.75" fill="rgb(150, 255, 60)"/>
<rect x="1602.2" y="349.75" width="60.8" height="331.55" fill="rgb(150, 255, 60)"/>
<rect x="1602.2" y="362.95" width="60.8" height="318.35" fill="rgb(150, 255, 62)"/>
<rect x="1602.2" y="376.15" width="60.8" height="305.15" fill="rgb(150, 255, 70)"/>
<rect x="1602.2" y="389.35" width="60.8" height="291.95" fill="rgb(148, 255, 85)"/>
<rect x="1602.2" y="402.56" width="60.8" height="278.74" fill="rgb(145, 255, 100)"/>
<rect x="1602.2" y="415.76" width="60.8" height="265.54" fill="rgb(143, 255, 115)"/>
<rect x="1602.2" y="428.96" width="60.8" height="252.34" fill="rgb(140, 255, 130)"/>
<rect x="1602.2" y="442.16" width="60.8" height="239.14" fill="rgb(140, 255, 150)"/>
<rect x="1602.2" y="455.36" width="60.8" height="225.94" fill="rgb(140, 255, 175)"/>
<rect x="1602.2" y="468.57" width="60.8" height="212.73" fill="rgb(135, 255, 200)"/>
<rect x="1602.2" y="481.77" width="60.8" height="199.53" fill="rgb(130, 255, 225)"/>
<rect x="1602.2" y="494.97" width="60.8" height="186.33" fill="rgb(128, 255, 240)"/>
<rect x="1602.2" y="508.17" width="60.8" height="173.13" fill="rgb(130, 255, 255)"/>
<rect x="1602.2" y="521.38" width="60.8" height="159.92" fill="rgb(125, 232, 255)"/>
<rect x="1602.2" y="534.58" width="60.8" height="146.72" fill="rgb(115, 205, 250)"/>
<rect x="1602.2" y="547.78" width="60.8" height="133.52" fill="rgb(110, 185, 250)"/>
<rect x="1602.2" y="560.98" width="60.8" height="120.32" fill="rgb(100, 170, 250)"/>
<rect x="1602.2" y="574.18" width="60.8" height="107.12" fill="rgb(85, 145, 250)"/>
<rect x="1602.2" y="587.39" width="60.8" height="93.91" fill="rgb(70, 125, 250)"/>
<rect x="1602.2" y="600.59" width="60.8" height="80.71" fill="rgb(60, 102, 248)"/>
<rect x="1602.2" y="613.79" width="60.8" height="67.51" fill="rgb(50, 82, 248)"/>
<rect x="1602.2" y="626.99" width="60.8" height="54.31" fill="rgb(40, 62, 248)"/>
<rect x="1602.2" y="640.19" width="60.8" height="41.11" fill="rgb(30, 40, 245)"/>
<rect x="1602.2" y="653.40" width="60.8" height="27.90" fill="rgb(20, 20, 242)"/>
<rect x="1602.2" y="666.60" width="60.8" height="14.70" fill="rgb(0, 0, 245)"/>
<path d="M1602.2 46V682M1663 46V682M1601 681H1675" stroke="#000" stroke-width="2.1" fill="none"/>
<text transform="translate(1684.51,689.40) scale(1,1.036)" font-family='"Liberation Serif", "DejaVu Serif", serif' font-size="23.74">2.000</text>
<text transform="translate(1684.51,557.09) scale(1,1.036)" font-family='"Liberation Serif", "DejaVu Serif", serif' font-size="23.74">12.42</text>
<text transform="translate(1684.51,424.90) scale(1,1.036)" font-family='"Liberation Serif", "DejaVu Serif", serif' font-size="23.74">22.83</text>
<text transform="translate(1684.51,292.59) scale(1,1.036)" font-family='"Liberation Serif", "DejaVu Serif", serif' font-size="23.74">33.25</text>
<text transform="translate(1684.51,160.27) scale(1,1.036)" font-family='"Liberation Serif", "DejaVu Serif", serif' font-size="23.74">43.67</text>
<text transform="translate(1684.51,54.50) scale(1,1.036)" font-family='"Liberation Serif", "DejaVu Serif", serif' font-size="23.74">52.00</text>
<path d="M1663 681.0H1675.2M1663 548.7H1675.2M1663 416.5H1675.2M1663 284.2H1675.2M1663 151.9H1675.2M1663 46.1H1675.2" stroke="#000" stroke-width="2.2" fill="none"/>
<text transform="translate(1626.52,28.19) scale(1,0.923)" font-family='"Liberation Serif", "DejaVu Serif", serif' font-size="40.03">ε<tspan font-size="0.67em" dy="0.42em">r</tspan></text>
</svg></body></html>
